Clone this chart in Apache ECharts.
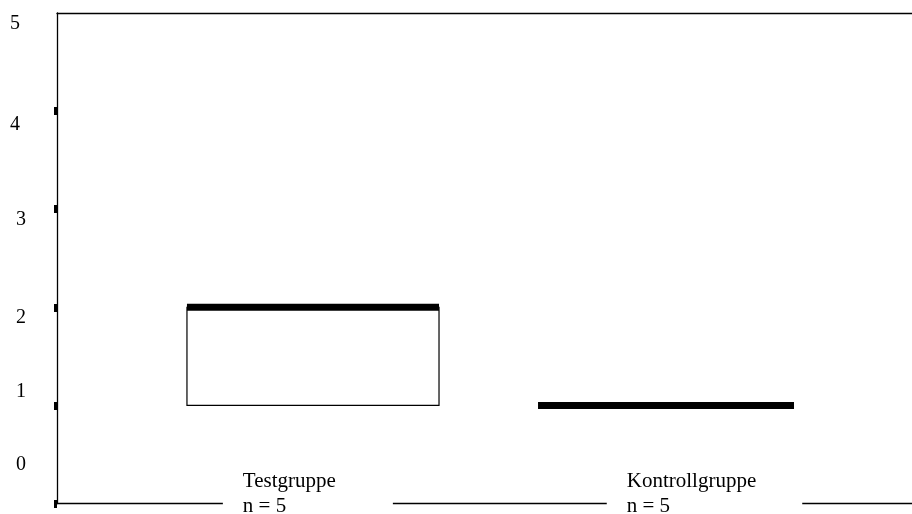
<!DOCTYPE html>
<html>
<head>
<meta charset="utf-8">
<script src="https://cdn.jsdelivr.net/npm/echarts@6/dist/echarts.min.js"></script>
<style>
html,body{margin:0;padding:0;background:#fff;}
#chart{width:912px;height:514px;}
</style>
</head>
<body>
<div id="chart"></div>
<script>
// ---- data ----
const CATEGORIES = ['Testgruppe', 'Kontrollgruppe'];
const N_LABELS = ['n = 5', 'n = 5'];
const MIN_VALUES = [1, 1];
const Q1_VALUES = [1, 1];
const MEDIAN_VALUES = [2, 1];
const Q3_VALUES = [2, 1];
const MAX_VALUES = [2, 1];
const Y_TICKS = [0, 1, 2, 3, 4, 5];

// ---- layout (axis units on a hidden 0..10 x scale) ----
const BOX_LEFT = [1.52, 5.626];
const BOX_RIGHT = [4.468, 8.62];
const LABEL_LEFT = [1.94, 6.43];
const LABEL_PAD_RIGHT = [57, 46];
const FONT = '"Liberation Serif", "Times New Roman", serif';

const seriesData = CATEGORIES.map((c, i) =>
  [i, MIN_VALUES[i], Q1_VALUES[i], MEDIAN_VALUES[i], Q3_VALUES[i], MAX_VALUES[i]]);

const labelRich = {
  l5: { padding: [22, 6, 0, 0] },
  l4: { padding: [28, 6, 0, 0] },
  l3: { padding: [22, 0, 0, 0] },
  l2: { padding: [20, 0, 0, 0] },
  l1: { padding: [0, 0, 28, 0] },
  l0: { padding: [0, 0, 78, 0] }
};
Object.values(labelRich).forEach(s => { s.fontSize = 20; s.fontFamily = FONT; s.color = '#000'; s.lineHeight = 20; });

const chart = echarts.init(document.getElementById('chart'), null, { renderer: 'canvas' });
chart.setOption({
  animation: false,
  backgroundColor: '#fff',
  grid: { left: 57, right: 0, top: 13, bottom: 10.5, containLabel: false, outerBoundsMode: 'none' },
  xAxis: [
    { type: 'value', min: 0, max: 10, position: 'bottom',
      axisLine: { show: true, onZero: false, lineStyle: { color: '#000', width: 1.3 } },
      axisTick: { show: false }, axisLabel: { show: false }, splitLine: { show: false } },
    { type: 'value', min: 0, max: 10, position: 'top',
      axisLine: { show: true, onZero: false, lineStyle: { color: '#000', width: 1.3 } },
      axisTick: { show: false }, axisLabel: { show: false }, splitLine: { show: false } }
  ],
  yAxis: {
    type: 'value', min: Y_TICKS[0], max: Y_TICKS[Y_TICKS.length - 1], interval: 1,
    axisLine: { show: true, onZero: false, lineStyle: { color: '#000', width: 1.3 } },
    axisTick: { show: true, length: 3, customValues: Y_TICKS.slice(0, -1), lineStyle: { color: '#000', width: 8 } },
    axisLabel: {
      margin: 31, align: 'right', verticalAlign: 'middle',
      customValues: Y_TICKS,
      formatter: v => '{l' + v + '|' + v + '}',
      rich: labelRich
    },
    splitLine: { show: false }
  },
  series: [{
    type: 'custom',
    xAxisIndex: 0,
    data: seriesData,
    encode: { x: 0, y: [1, 2, 3, 4, 5] },
    renderItem: function (params, api) {
      const i = api.value(0);
      const x0 = api.coord([BOX_LEFT[i], 0])[0];
      const x1 = api.coord([BOX_RIGHT[i], 0])[0];
      const xm = (x0 + x1) / 2;
      const yMin = api.coord([0, api.value(1)])[1];
      const yQ1 = api.coord([0, api.value(2)])[1];
      const yMed = api.coord([0, api.value(3)])[1];
      const yQ3 = api.coord([0, api.value(4)])[1];
      const yMax = api.coord([0, api.value(5)])[1];
      const yBase = api.coord([0, 0])[1];
      const children = [];
      if (yMax < yQ3) children.push({ type: 'line', shape: { x1: xm, y1: yQ3, x2: xm, y2: yMax }, style: { stroke: '#000', lineWidth: 1 } });
      if (yMin > yQ1) children.push({ type: 'line', shape: { x1: xm, y1: yQ1, x2: xm, y2: yMin }, style: { stroke: '#000', lineWidth: 1 } });
      if (yQ1 - yQ3 > 0.5) {
        children.push({ type: 'rect', shape: { x: x0, y: yQ3, width: x1 - x0, height: yQ1 - yQ3 },
          style: { fill: '#fff', stroke: '#000', lineWidth: 1.2 } });
      }
      children.push({ type: 'line', shape: { x1: x0, y1: yMed, x2: x1, y2: yMed },
        style: { stroke: '#000', lineWidth: 7 } });
      children.push({ type: 'text', x: api.coord([LABEL_LEFT[i], 0])[0], y: yBase - 34,
        style: { text: CATEGORIES[i] + '\n' + N_LABELS[i], fontSize: 21, fontFamily: FONT, fill: '#000',
          lineHeight: 24.5, align: 'left', verticalAlign: 'top', backgroundColor: '#fff',
          padding: [0, LABEL_PAD_RIGHT[i], 6, 20] } });
      return { type: 'group', children: children };
    }
  }]
});
</script>
</body>
</html>
